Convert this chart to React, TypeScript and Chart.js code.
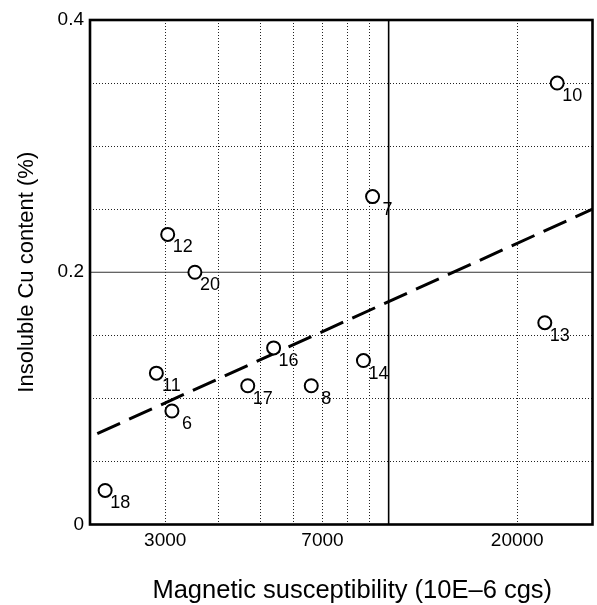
import React, { useEffect, useRef } from "react";
import { Chart, registerables } from "chart.js";

Chart.register(...registerables);

// ---- data ----
const sampleIds = ["10", "7", "12", "20", "13", "16", "14", "11", "17", "8", "6", "18"];
const susceptibility = [24800, 9170, 3040, 3520, 23200, 5380, 8730, 2860, 4680, 6590, 3110, 2170];
const insolubleCu = [0.35, 0.26, 0.23, 0.2, 0.16, 0.14, 0.13, 0.12, 0.11, 0.11, 0.09, 0.027];

const trendX = [2080, 30000];
const trendY = [0.072, 0.25];

const xGridValues = [2000, 3000, 4000, 5000, 6000, 7000, 8000, 9000, 10000, 20000, 30000];
const xLabelValues = [3000, 7000, 20000];
const yLabelValues = [0, 0.2, 0.4];
const refLineY = 0.2;
const refLineX = 10000;

const xTitle = "Magnetic susceptibility (10E\u20136 cgs)";
const yTitle = "Insoluble Cu content (%)";

const X_MIN = 2000;
const X_MAX = 30000;
const Y_MIN = 0;
const Y_MAX = 0.4;
const Y_STEP = 0.05;

const FONT = "'Liberation Sans', Arial, Helvetica, sans-serif";

const near = (a: number, b: number, eps = 1e-7) => Math.abs(a - b) < eps * Math.max(1, Math.abs(b));

const framePlugin = {
  id: "frame",
  afterDraw(chart: any) {
    const { ctx, chartArea } = chart;
    ctx.save();
    ctx.strokeStyle = "#000";
    ctx.lineWidth = 2.6;
    ctx.strokeRect(chartArea.left, chartArea.top, chartArea.right - chartArea.left, chartArea.bottom - chartArea.top);
    // x-axis title
    ctx.fillStyle = "#000";
    ctx.font = `25.5px ${FONT}`;
    ctx.textAlign = "center";
    ctx.textBaseline = "alphabetic";
    ctx.fillText(xTitle, (chartArea.left + chartArea.right) / 2 + 11, chartArea.bottom + 73.5);
    ctx.restore();
  },
};

const pointLabelPlugin = {
  id: "pointLabels",
  afterDatasetsDraw(chart: any) {
    const meta = chart.getDatasetMeta(0);
    const ctx = chart.ctx;
    ctx.save();
    ctx.fillStyle = "#000";
    ctx.font = `18px ${FONT}`;
    ctx.textAlign = "center";
    ctx.textBaseline = "middle";
    meta.data.forEach((el: any, i: number) => {
      ctx.fillText(sampleIds[i], el.x + 15, el.y + 13);
    });
    ctx.restore();
  },
};

export default function App() {
  const canvasRef = useRef<HTMLCanvasElement | null>(null);

  useEffect(() => {
    if (!canvasRef.current) return;
    Chart.defaults.font.family = FONT;
    Chart.defaults.color = "#000";

    const points = susceptibility.map((x, i) => ({ x, y: insolubleCu[i] }));
    const trend = trendX.map((x, i) => ({ x, y: trendY[i] }));

    const chart = new Chart(canvasRef.current, {
      type: "scatter",
      data: {
        datasets: [
          {
            label: "samples",
            data: points,
            pointStyle: "circle",
            pointRadius: 6.5,
            pointBorderWidth: 2,
            pointBorderColor: "#000",
            pointBackgroundColor: "#fff",
            showLine: false,
          } as any,
          {
            label: "trend",
            data: trend,
            showLine: true,
            borderColor: "#000",
            borderWidth: 3,
            borderDash: [25, 10],
            pointRadius: 0,
            fill: false,
          } as any,
          {
            label: "ref-y",
            data: [
              { x: X_MIN, y: refLineY },
              { x: X_MAX, y: refLineY },
            ],
            showLine: true,
            borderColor: "#333",
            borderWidth: 1,
            pointRadius: 0,
          } as any,
          {
            label: "ref-x",
            data: [
              { x: refLineX, y: Y_MIN },
              { x: refLineX, y: Y_MAX },
            ],
            showLine: true,
            borderColor: "#000",
            borderWidth: 1.6,
            pointRadius: 0,
          } as any,
        ],
      },
      options: {
        animation: false,
        responsive: false,
        devicePixelRatio: 1,
        layout: { autoPadding: false, padding: { top: 20, right: 4.5, left: 0, bottom: 0 } },
        plugins: {
          legend: { display: false },
          tooltip: { enabled: false },
        },
        scales: {
          x: {
            type: "logarithmic",
            min: X_MIN,
            max: X_MAX,
            afterBuildTicks: (scale: any) => {
              scale.ticks = xGridValues.map((v) => ({ value: v }));
            },
            afterFit: (scale: any) => {
              scale.height = 80.5;
              scale.paddingLeft = 0;
              scale.paddingRight = 0;
            },
            grid: {
              drawTicks: false,
              lineWidth: 1,
              color: (ctx: any) => {
                const v = ctx.tick ? ctx.tick.value : NaN;
                if (near(v, X_MIN) || near(v, X_MAX) || near(v, refLineX)) return "rgba(0,0,0,0)";
                return "#222";
              },
            },
            border: { display: false, dash: [1, 2] },
            ticks: {
              autoSkip: false,
              maxRotation: 0,
              padding: 5,
              font: { size: 19 },
              color: "#000",
              callback: (value: any) => {
                const v = Number(value);
                return xLabelValues.some((l) => near(l, v)) ? String(v) : "";
              },
            },
            title: { display: false },
          },
          y: {
            type: "linear",
            min: Y_MIN,
            max: Y_MAX,
            afterFit: (scale: any) => {
              scale.width = 90;
            },
            grid: {
              drawTicks: false,
              lineWidth: 1,
              color: (ctx: any) => {
                const v = ctx.tick ? ctx.tick.value : NaN;
                if (near(v, Y_MIN) || near(v, Y_MAX) || near(v, refLineY)) return "rgba(0,0,0,0)";
                return "#222";
              },
            },
            border: { display: false, dash: [1, 2] },
            ticks: {
              stepSize: Y_STEP,
              autoSkip: false,
              padding: 6,
              font: { size: 19 },
              color: "#000",
              callback: (value: any) => {
                const v = Number(value);
                const hit = yLabelValues.find((l) => Math.abs(l - v) < 1e-9);
                return hit !== undefined ? String(hit) : "";
              },
            },
            title: {
              display: true,
              text: yTitle,
              font: { size: 22 },
              color: "#000",
              padding: { top: 14, bottom: 0 },
            },
          },
        },
      } as any,
      plugins: [framePlugin, pointLabelPlugin],
    });

    return () => chart.destroy();
  }, []);

  return (
    <div style={{ position: "fixed", left: 0, top: 0, width: 597, height: 605, background: "#fff" }}>
      <canvas ref={canvasRef} width={597} height={605} style={{ display: "block" }} />
    </div>
  );
}
